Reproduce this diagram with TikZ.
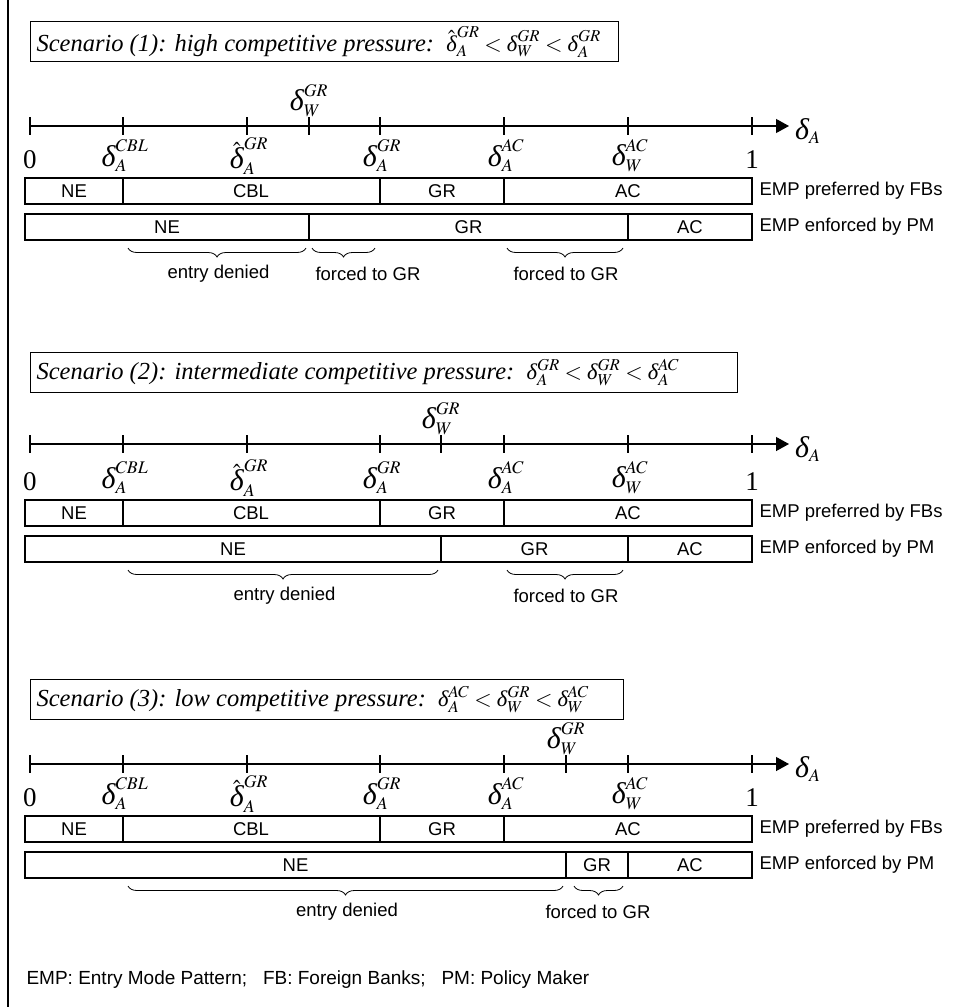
\documentclass[tikz,border=0pt]{standalone}
\usepackage{mathptmx}
\usepackage{fontspec}
\setmainfont{Liberation Serif}
\newfontfamily\arialfont{Liberation Sans}
\usetikzlibrary{arrows.meta,decorations.pathreplacing}

\newcommand{\dlt}{\mbox{\itshape δ}}
\newcommand{\Dlt}{\mbox{\fontsize{30}{30}\selectfont\itshape δ}}

\tikzset{
    axisln/.style={line width=1.2pt, -{Triangle[length=13pt,width=14pt]}},
    tickln/.style={line width=1.2pt},
    bar/.style={draw, line width=1.1pt},
    barlbl/.style={font=\arialfont\fontsize{18.5}{18.5}\selectfont},
    val/.style={font=\fontsize{24}{24}\selectfont, inner sep=0pt},
    num/.style={font=\fontsize{27}{27}\selectfont, inner sep=0pt},
    brc/.style={decorate, decoration={brace, mirror, amplitude=9pt}, line width=0.8pt},
    ttl/.style={draw, line width=1pt, anchor=north west, minimum height=40pt,
        inner xsep=6pt, align=flush left, font=\itshape\fontsize{24.5}{24.5}\selectfont},
}

\begin{document}
\begin{tikzpicture}[x=1pt, y=-1pt]
    \useasboundingbox (0,0) rectangle (955,1007);
    \draw[line width=1.2pt] (8,0) -- (8,1007);

    % scenario titles
    \node[ttl, text width=576pt] (ttl1) at (30,21) {\mbox{Scenario (1): high competitive pressure:\, {\fontsize{22.5}{22.5}\selectfont$\hat{\dlt}_A^{GR}<\dlt_W^{GR}<\dlt_A^{GR}$}}};
    \node[ttl, text width=695pt] (ttl2) at (30,352) {\mbox{Scenario (2): intermediate competitive pressure:\, {\fontsize{22.5}{22.5}\selectfont$\dlt_A^{GR}<\dlt_W^{GR}<\dlt_A^{AC}$}}};
    \node[ttl, text width=581pt] (ttl3) at (30,679) {\mbox{Scenario (3): low competitive pressure:\, {\fontsize{22.5}{22.5}\selectfont$\dlt_A^{AC}<\dlt_W^{GR}<\dlt_W^{AC}$}}};

    % the part the three scenarios share; \w is where delta_W^GR lies
    \foreach \s/\a/\w in {0/0/309, 322/318/441, 638/638/566} {
        \begin{scope}[yshift=-\a pt]
            \coordinate (ax0\s) at (30,126);
            \coordinate (axend\s) at (789,126);
            \draw[axisln] (ax0\s) -- (axend\s);
            \foreach \t in {30,123,247,380,504,628,752,\w}
                \draw[tickln] (\t,117) -- (\t,135);
            \node[val, anchor=west] (da\s) at (795,131) {$\Dlt_A$};
            \node[val] (wgr\s) at (\w,101) {$\Dlt_W^{GR}$};
        \end{scope}
        \begin{scope}[yshift=-\s pt]
            \node[num] (zero\s) at (30,160) {0};
            \node[num] (one\s) at (752,160) {1};
            \node[val] (cbl\s) at (125,156) {$\Dlt_A^{CBL}$};
            \node[val] (hgr\s) at (249,156) {$\hat{\Dlt}_A^{GR}$};
            \node[val] (agr\s) at (382,156) {$\Dlt_A^{GR}$};
            \node[val] (aac\s) at (506,156) {$\Dlt_A^{AC}$};
            \node[val] (wac\s) at (630,156) {$\Dlt_W^{AC}$};
            % preferred by foreign banks
            \draw[bar] (25,178) rectangle (752,204);
            \foreach \t in {123,380,504}
                \draw[bar] (\t,178) -- (\t,204);
            \node[barlbl] (pne\s) at (74,191) {NE};
            \node[barlbl] (pcbl\s) at (251,191) {CBL};
            \node[barlbl] (pgr\s) at (442,191) {GR};
            \node[barlbl] (pac\s) at (628,191) {AC};
            \node[barlbl, anchor=west] (prow\s) at (756,191) {EMP preferred by FBs};
            % enforced by policy maker
            \draw[bar] (25,214) rectangle (752,240);
            \foreach \t in {\w,628}
                \draw[bar] (\t,214) -- (\t,240);
            \node[barlbl] (ene\s) at ({(25+\w)/2},227) {NE};
            \node[barlbl] (egr\s) at ({(\w+628)/2},227) {GR};
            \node[barlbl] (eac\s) at (690,227) {AC};
            \node[barlbl, anchor=west] (erow\s) at (756,227) {EMP enforced by PM};
            % entry denied
            \draw[brc] (128,248) -- ({\w-3},248);
            \node[barlbl] (den\s) at ({(128+\w)/2},274) {entry denied};
        \end{scope}
    }

    % forced to GR
    \draw[brc] (312,248) -- (375,248);
    \node[barlbl] (frc1a) at (368,274) {forced to GR};
    \draw[brc] (507,248) -- (623,248);
    \node[barlbl] (frc1b) at (566,274) {forced to GR};
    \draw[brc] (507,570) -- (623,570);
    \node[barlbl] (frc2) at (566,596) {forced to GR};
    \draw[brc] (574,886) -- (623,886);
    \node[barlbl] (frc3) at (598,912) {forced to GR};

    \node[barlbl, anchor=west, font=\arialfont\fontsize{19}{19}\selectfont] (legend) at (23,980) {EMP: Entry Mode Pattern;\ \ \ FB: Foreign Banks;\ \ \ PM: Policy Maker};
\end{tikzpicture}
\end{document}
